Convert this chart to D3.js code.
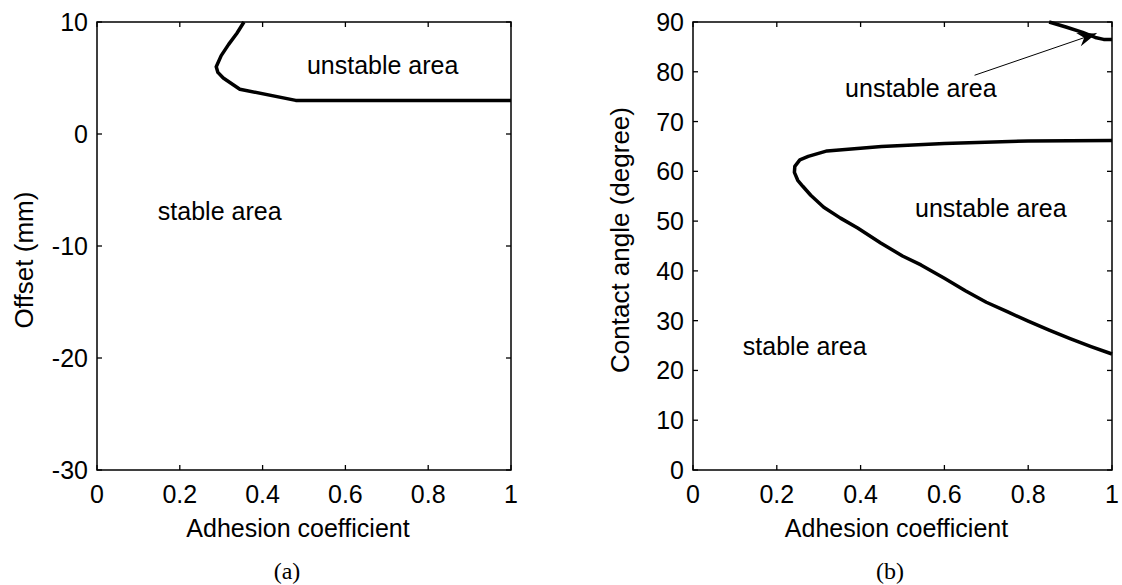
<!DOCTYPE html>
<meta charset="utf-8">
<head>
  <script src="https://d3js.org/d3.v7.min.js"></script>
  <style>
    body { margin: 0; background: #fff; font-family: 'Liberation Sans', Arial, sans-serif; }
  </style>
</head>
<body>
<div id="chart"></div>
<script>
// ---- data ----
const ticksX = [0, 0.2, 0.4, 0.6, 0.8, 1];
const ticksA = [-30, -20, -10, 0, 10];
const ticksB = [0, 10, 20, 30, 40, 50, 60, 70, 80, 90];

// (a) offset boundary
const aAdhesion = [0.355, 0.338, 0.318, 0.300, 0.288, 0.292, 0.305, 0.345, 0.480, 1.0];
const aOffset   = [10, 9, 8, 7, 6, 5.5, 5, 4, 3, 3];

// (b) lower boundary (upper branch -> nose -> lower branch)
const bAdhesion = [1.0, 0.8, 0.6, 0.45, 0.32, 0.275, 0.255, 0.243, 0.242, 0.250, 0.262, 0.281, 0.312,
                   0.352, 0.393, 0.448, 0.50, 0.544, 0.60, 0.65, 0.70, 0.75, 0.80, 0.85, 0.90, 0.95, 1.0];
const bAngle    = [66.2, 66.1, 65.6, 65.0, 64.1, 63.0, 62.3, 61.0, 59.8, 58.2, 57.0, 55.2, 52.8,
                   50.6, 48.6, 45.6, 43.0, 41.2, 38.5, 36.0, 33.7, 31.8, 29.9, 28.1, 26.4, 24.8, 23.3];
// (b) small boundary in the top right corner
const cAdhesion = [0.85, 0.89, 0.93, 0.96, 0.98, 1.0];
const cAngle    = [90, 89.0, 87.9, 86.9, 86.5, 86.5];

// arrow in (b): [start, end] as [adhesion, angle]
const arrowFrom = [0.672, 79.3];
const arrowTo   = [0.963, 87.7];

const W = 1122, H = 585;
const svg = d3.select("#chart").append("svg")
  .attr("width", W).attr("height", H);

svg.append("defs").append("marker")
  .attr("id", "head")
  .attr("markerUnits", "userSpaceOnUse")
  .attr("viewBox", "-20 -10 22 20")
  .attr("refX", 0).attr("refY", 0)
  .attr("markerWidth", 22).attr("markerHeight", 20)
  .attr("orient", "auto")
  .append("path")
  .attr("d", "M0,0 L-19,-7 L-13,0 L-19,7 Z")
  .attr("fill", "#000");

const line = d3.line().x(d => d[0]).y(d => d[1]);

function panel(opt) {
  const x = d3.scaleLinear().domain([0, 1]).range([opt.left, opt.right]);
  const y = d3.scaleLinear().domain(opt.yDomain).range([470, 22]);
  const g = svg.append("g");

  // ticks on all four sides, pointing in
  const tl = 5;
  ticksX.forEach(t => {
    g.append("line").attr("x1", x(t)).attr("x2", x(t)).attr("y1", y.range()[0]).attr("y2", y.range()[0] - tl)
      .attr("stroke", "#000").attr("stroke-width", 1.3);
    g.append("line").attr("x1", x(t)).attr("x2", x(t)).attr("y1", y.range()[1]).attr("y2", y.range()[1] + tl)
      .attr("stroke", "#000").attr("stroke-width", 1.3);
    g.append("text").attr("x", x(t)).attr("y", y.range()[0] + 33)
      .attr("text-anchor", "middle").attr("font-size", 25).text(d3.format("~g")(t));
  });
  opt.yTicks.forEach(t => {
    g.append("line").attr("x1", opt.left).attr("x2", opt.left + tl).attr("y1", y(t)).attr("y2", y(t))
      .attr("stroke", "#000").attr("stroke-width", 1.3);
    g.append("line").attr("x1", opt.right).attr("x2", opt.right - tl).attr("y1", y(t)).attr("y2", y(t))
      .attr("stroke", "#000").attr("stroke-width", 1.3);
    g.append("text").attr("x", opt.left - 9).attr("y", y(t) + 9)
      .attr("text-anchor", "end").attr("font-size", 25).text(t);
  });

  // box
  g.append("rect").attr("x", opt.left).attr("y", 22)
    .attr("width", opt.right - opt.left).attr("height", 448)
    .attr("fill", "none").attr("stroke", "#000").attr("stroke-width", 1.5);

  // axis titles
  g.append("text").attr("x", (opt.left + opt.right) / 2 - 6).attr("y", 537)
    .attr("text-anchor", "middle").attr("font-size", 25).text("Adhesion coefficient");
  g.append("text")
    .attr("transform", `translate(${opt.left - 64},${opt.yLabelY}) rotate(-90)`)
    .attr("text-anchor", "middle").attr("font-size", 26).text(opt.yLabel);
  g.append("text").attr("x", opt.caption[0]).attr("y", 579)
    .attr("text-anchor", "middle").attr("font-size", 24)
    .attr("font-family", "'Liberation Serif', 'Times New Roman', serif").text(opt.caption[1]);

  // annotations
  opt.notes.forEach(n => {
    g.append("text").attr("x", x(n[0])).attr("y", y(n[1]))
      .attr("font-size", 25).text(n[2]);
  });

  return { g, x, y };
}

const pa = panel({
  left: 97, right: 511, yDomain: [-30, 10], yTicks: ticksA,
  yLabel: "Offset (mm)", yLabelY: 260, caption: [287, "(a)"],
  notes: [[0.507, 5.36, "unstable area"], [0.147, -7.7, "stable area"]]
});
pa.g.append("path")
  .attr("d", line(d3.zip(aAdhesion, aOffset).map(d => [pa.x(d[0]), pa.y(d[1])])))
  .attr("fill", "none").attr("stroke", "#000").attr("stroke-width", 3.5)
  .attr("stroke-linejoin", "round");

const pb = panel({
  left: 693, right: 1112, yDomain: [0, 90], yTicks: ticksB,
  yLabel: "Contact angle (degree)", yLabelY: 240, caption: [890, "(b)"],
  notes: [[0.363, 74.9, "unstable area"], [0.53, 50.8, "unstable area"], [0.119, 23.1, "stable area"]]
});
pb.g.append("path")
  .attr("d", line(d3.zip(bAdhesion, bAngle).map(d => [pb.x(d[0]), pb.y(d[1])])))
  .attr("fill", "none").attr("stroke", "#000").attr("stroke-width", 3.5)
  .attr("stroke-linejoin", "round");
pb.g.append("path")
  .attr("d", line(d3.zip(cAdhesion, cAngle).map(d => [pb.x(d[0]), pb.y(d[1])])))
  .attr("fill", "none").attr("stroke", "#000").attr("stroke-width", 3.5)
  .attr("stroke-linejoin", "round");
pb.g.append("line")
  .attr("x1", pb.x(arrowFrom[0])).attr("y1", pb.y(arrowFrom[1]))
  .attr("x2", pb.x(arrowTo[0])).attr("y2", pb.y(arrowTo[1]))
  .attr("stroke", "#000").attr("stroke-width", 1)
  .attr("marker-end", "url(#head)");
</script>
</body>
